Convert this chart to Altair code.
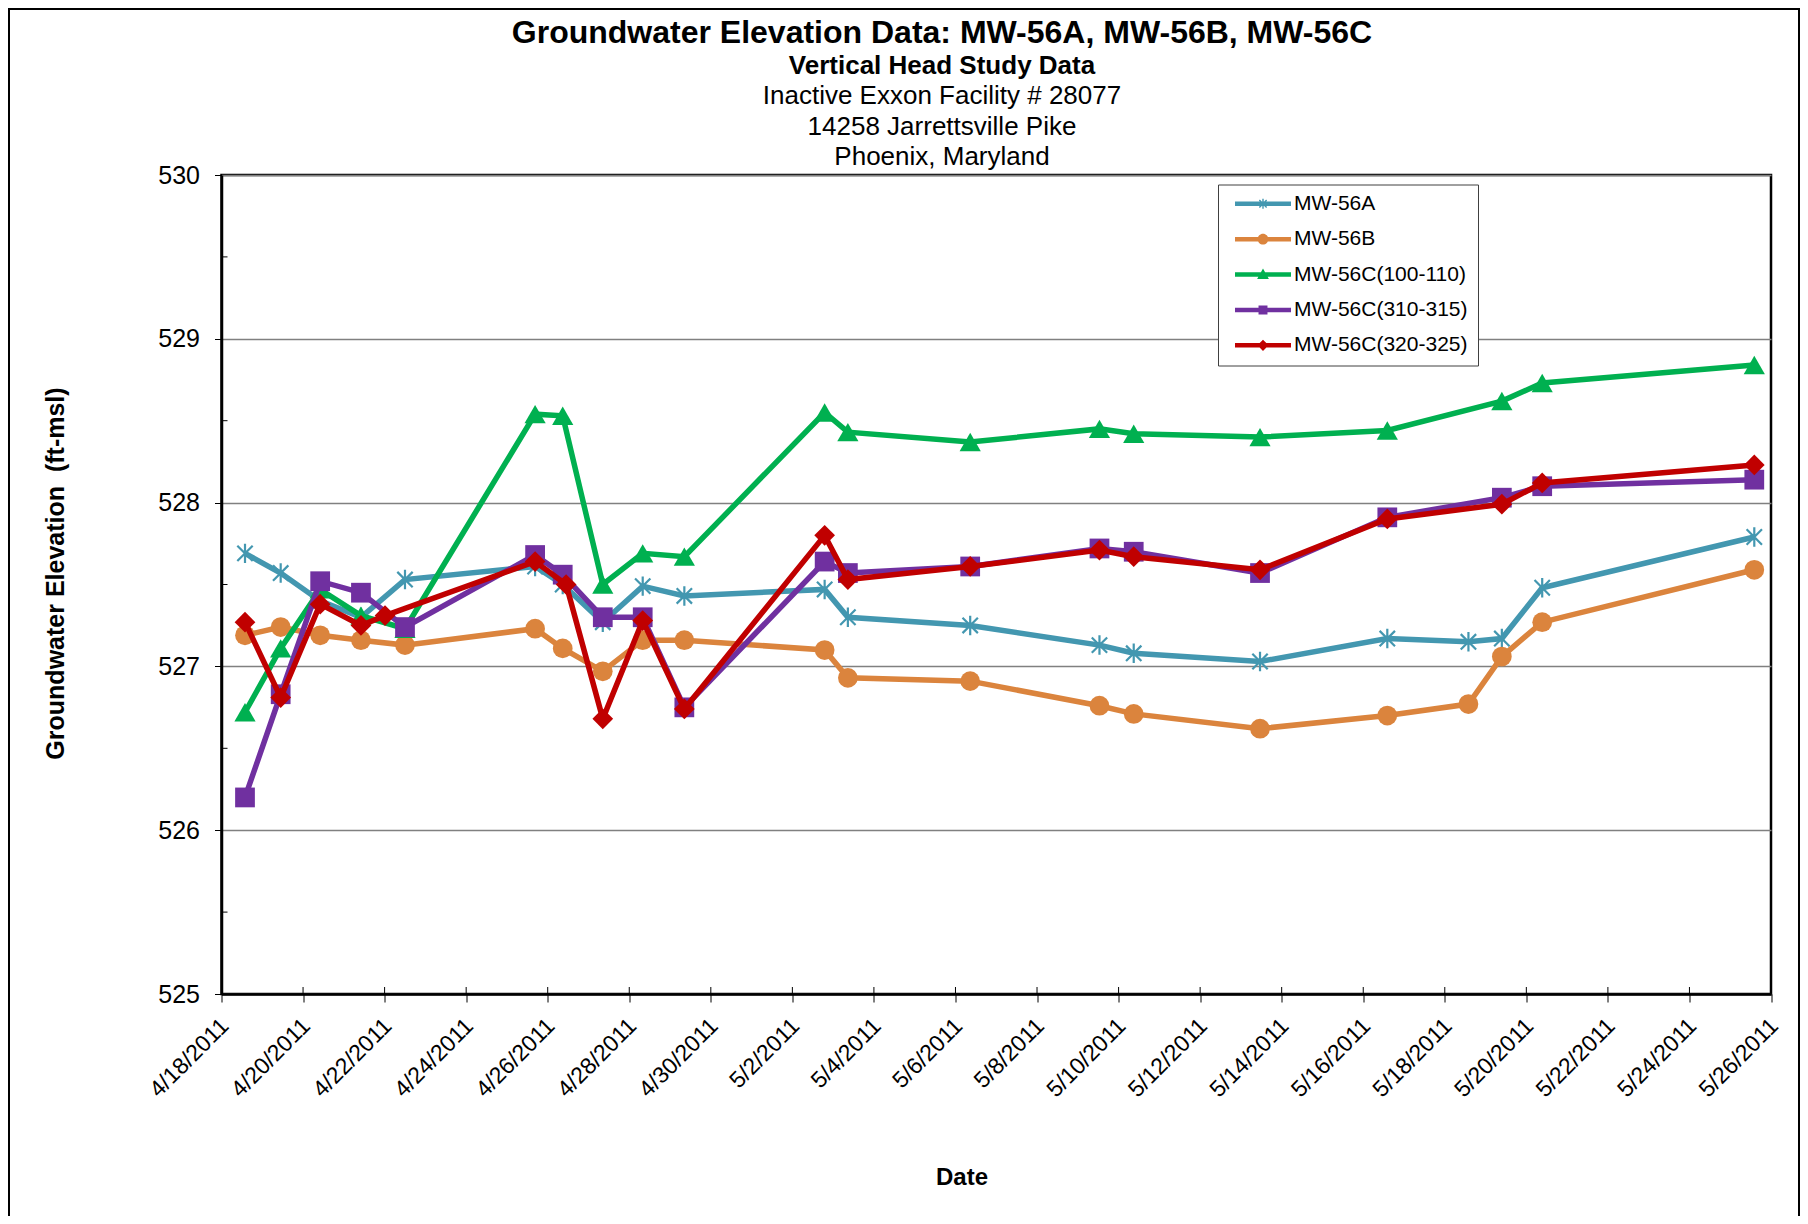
import altair as alt
import pandas as pd

FONT = "Liberation Sans"

# ---------------- data ----------------
series_names = ["MW-56A", "MW-56B", "MW-56C(100-110)", "MW-56C(310-315)", "MW-56C(320-325)"]
series_colors = ["#4397B0", "#DB843D", "#00B050", "#7030A0", "#C00000"]

dates_ab = ["2011-04-18T13:50:00", "2011-04-19T10:50:00", "2011-04-20T10:05:00", "2011-04-21T10:05:00",
            "2011-04-22T12:00:00", "2011-04-25T16:35:00", "2011-04-26T08:50:00", "2011-04-27T08:25:00",
            "2011-04-28T07:55:00", "2011-04-29T08:25:00", "2011-05-02T19:00:00", "2011-05-03T08:40:00",
            "2011-05-06T08:40:00", "2011-05-09T12:45:00", "2011-05-10T08:55:00", "2011-05-13T11:15:00",
            "2011-05-16T14:10:00", "2011-05-18T13:55:00", "2011-05-19T09:35:00", "2011-05-20T09:20:00",
            "2011-05-25T14:10:00"]
dates_c = ["2011-04-18T13:50:00", "2011-04-19T10:50:00", "2011-04-20T10:05:00", "2011-04-21T10:05:00",
           "2011-04-22T12:00:00", "2011-04-25T16:35:00", "2011-04-26T08:50:00", "2011-04-27T08:25:00",
           "2011-04-28T07:55:00", "2011-04-29T08:25:00", "2011-05-02T19:00:00", "2011-05-03T08:40:00",
           "2011-05-06T08:40:00", "2011-05-09T12:45:00", "2011-05-10T08:55:00", "2011-05-13T11:15:00",
           "2011-05-16T14:10:00", "2011-05-19T09:35:00", "2011-05-20T09:20:00", "2011-05-25T14:10:00"]
dates_red = ["2011-04-18T13:50:00", "2011-04-19T10:50:00", "2011-04-20T10:05:00", "2011-04-21T10:05:00",
             "2011-04-22T00:15:00", "2011-04-25T16:35:00", "2011-04-26T10:50:00", "2011-04-27T08:25:00",
             "2011-04-28T07:55:00", "2011-04-29T08:25:00", "2011-05-02T19:00:00", "2011-05-03T08:40:00",
             "2011-05-06T08:40:00", "2011-05-09T12:45:00", "2011-05-10T08:55:00", "2011-05-13T11:15:00",
             "2011-05-16T14:10:00", "2011-05-19T09:35:00", "2011-05-20T09:20:00", "2011-05-25T14:10:00"]

mw56a = [527.69, 527.57, 527.40, 527.30, 527.53, 527.61, 527.50, 527.27, 527.49, 527.43, 527.47,
         527.30, 527.25, 527.13, 527.08, 527.03, 527.17, 527.15, 527.17, 527.48, 527.79]
mw56b = [527.19, 527.24, 527.19, 527.16, 527.13, 527.23, 527.11, 526.97, 527.16, 527.16, 527.10,
         526.93, 526.91, 526.76, 526.71, 526.62, 526.70, 526.77, 527.06, 527.27, 527.59]
mw56c_100 = [526.72, 527.11, 527.47, 527.31, 527.23, 528.54, 528.53, 527.50, 527.69, 527.67,
             528.55, 528.43, 528.37, 528.45, 528.42, 528.40, 528.44, 528.62, 528.73, 528.84]
mw56c_310 = [526.20, 526.83, 527.52, 527.45, 527.24, 527.68, 527.56, 527.30, 527.30, 526.75,
             527.64, 527.57, 527.61, 527.72, 527.70, 527.57, 527.91, 528.03, 528.10, 528.14]
mw56c_320 = [527.27, 526.81, 527.38, 527.25, 527.31, 527.64, 527.50, 526.68, 527.28, 526.74,
             527.80, 527.53, 527.61, 527.71, 527.67, 527.59, 527.90, 527.99, 528.12, 528.23]

x_tick_labels = ["4/18/2011", "4/20/2011", "4/22/2011", "4/24/2011", "4/26/2011", "4/28/2011",
                 "4/30/2011", "5/2/2011", "5/4/2011", "5/6/2011", "5/8/2011", "5/10/2011",
                 "5/12/2011", "5/14/2011", "5/16/2011", "5/18/2011", "5/20/2011", "5/22/2011",
                 "5/24/2011", "5/26/2011"]
y_ticks = [525, 526, 527, 528, 529, 530]
y_minor = [525.5, 526.5, 527.5, 528.5, 529.5]

title_lines = ["Groundwater Elevation Data: MW-56A, MW-56B, MW-56C",
               "Vertical Head Study Data",
               "Inactive Exxon Facility # 28077",
               "14258 Jarrettsville Pike",
               "Phoenix, Maryland"]

# ---------------- tables ----------------
rows = []
for name, ds, vs in zip(series_names,
                        [dates_ab, dates_ab, dates_c, dates_c, dates_red],
                        [mw56a, mw56b, mw56c_100, mw56c_310, mw56c_320]):
    for d, v in zip(ds, vs):
        rows.append({"series": name, "date": d, "elev": v})
df = pd.DataFrame(rows)

tick_dt = pd.to_datetime(x_tick_labels, format="%m/%d/%Y")
tick_df = pd.DataFrame({"date": [t.strftime("%Y-%m-%dT00:00:00") for t in tick_dt]})
tick_values = [alt.DateTime(year=t.year, month=t.month, date=t.day) for t in tick_dt]
minor_df = pd.DataFrame({"elev": y_minor})

W, H = 1549.5, 819

x_scale = alt.Scale(domain=[tick_values[0], tick_values[-1]], nice=False)
y_scale = alt.Scale(domain=[525, 530], nice=False, zero=False)

X_TITLE = "Date"
Y_TITLE = "Groundwater Elevation \u00a0(ft-msl)"

x_axis = alt.Axis(values=tick_values, format="%-m/%-d/%Y", labelAngle=-45, labelAlign="right",
                  labelBaseline="middle", labelFontSize=23, labelPadding=20, labelOffset=3,
                  labelOverlap=False, labelFlush=False, labelBound=False,
                  tickSize=8, tickColor="black", tickWidth=1, grid=False,
                  domainColor="black", domainWidth=2.5,
                  title=X_TITLE, titleFontSize=24, titleFontWeight="bold",
                  titleX=740, titleY=183, titleAlign="center", titleBaseline="middle")
y_axis = alt.Axis(values=y_ticks, format="d", labelFontSize=25, labelPadding=15,
                  tickSize=7, tickColor="black", tickWidth=1,
                  grid=True, gridColor="#808080", gridWidth=1.5,
                  domainColor="black", domainWidth=2.5,
                  title=Y_TITLE, titleFontSize=25, titleFontWeight="bold",
                  titleX=-166.5, titleY=398, titleAlign="center", titleBaseline="middle", titleAngle=270)


def xenc():
    return alt.X("date:T", scale=x_scale, axis=x_axis, title=X_TITLE)


def yenc():
    return alt.Y("elev:Q", scale=y_scale, axis=y_axis, title=Y_TITLE)


layers = []

# outer frame of the figure
one = pd.DataFrame({"k": [0]})
layers.append(alt.Chart(one).mark_rect(filled=False, stroke="black", strokeWidth=2).encode(
    x=alt.value(-212.5), x2=alt.value(1577.5), y=alt.value(-166), y2=alt.value(1070)))

# minor y ticks (inside) and inner x tick halves
layers.append(alt.Chart(minor_df).mark_rule(color="black", strokeWidth=1).encode(
    y=yenc(), x=alt.value(0), x2=alt.value(6)))
layers.append(alt.Chart(tick_df).mark_rule(color="black", strokeWidth=1).encode(
    x=xenc(), y=alt.value(H), y2=alt.value(H - 7)))

asterisk = "M0,-0.95L0,0.95M-0.75,-0.75L0.75,0.75M-0.75,0.75L0.75,-0.75"
point_specs = [
    dict(shape=asterisk, filled=False, strokeWidth=2.2, size=420),
    dict(shape="circle", filled=True, strokeWidth=0, size=390),
    dict(shape="triangle-up", filled=True, strokeWidth=0, size=450),
    dict(shape="square", filled=True, strokeWidth=0, size=390),
    dict(shape="diamond", filled=True, strokeWidth=0, size=430),
]

for name, color, ps in zip(series_names, series_colors, point_specs):
    sub = alt.Chart(df).transform_filter(alt.datum.series == name)
    layers.append(sub.mark_line(color=color, strokeWidth=5.5).encode(x=xenc(), y=yenc()))
    layers.append(sub.mark_point(color=color, opacity=1, **ps).encode(x=xenc(), y=yenc()))

# legend (symbols: line + marker as custom paths)
bar = "M-1,-0.08L1,-0.08L1,0.08L-1,0.08Z"
leg_shapes = [
    bar + "M-0.025,-0.18L0.025,-0.18L0.025,0.18L-0.025,0.18Z"
        + "M-0.112,-0.148L0.148,0.112L0.112,0.148L-0.148,-0.112Z"
        + "M-0.148,0.112L0.112,-0.148L0.148,-0.112L-0.112,0.148Z",
    bar + "M-0.19,0A0.19,0.19 0 1,1 0.19,0A0.19,0.19 0 1,1 -0.19,0Z",
    bar + "M0,-0.22L0.21,0.16L-0.21,0.16Z",
    bar + "M-0.16,-0.16L0.16,-0.16L0.16,0.16L-0.16,0.16Z",
    bar + "M0,-0.2L0.2,0L0,0.2L-0.2,0Z",
]
legend = alt.Legend(title=None, orient="none", legendX=996.5, legendY=9.5, padding=10,
                    symbolSize=3136, clipHeight=18.5, rowPadding=13.4, symbolOffset=7,
                    labelOffset=3, labelFontSize=21, labelFont=FONT, labelColor="black",
                    labelExpr="datum.label + '\u2003'",
                    labelLimit=400, symbolStrokeWidth=0, symbolOpacity=1,
                    strokeColor="#404040", fillColor="white", direction="vertical")
layers.append(alt.Chart(df).transform_filter("false").mark_point(filled=True, opacity=1).encode(
    color=alt.Color("series:N", scale=alt.Scale(domain=series_names, range=series_colors), legend=legend),
    shape=alt.Shape("series:N", scale=alt.Scale(domain=series_names, range=leg_shapes), legend=legend)))

# title block
title_y = [-141.6, -109.3, -79.3, -48.2, -18.2]
title_size = [32, 26, 26, 26, 26]
title_weight = ["bold", "bold", "normal", "normal", "normal"]
for line, ty, ts, tw in zip(title_lines, title_y, title_size, title_weight):
    layers.append(alt.Chart(pd.DataFrame({"t": [line]})).mark_text(
        font=FONT, fontSize=ts, fontWeight=tw, align="center", baseline="middle", color="black").encode(
        text="t:N", x=alt.value(720.5), y=alt.value(ty)))

chart = alt.layer(*layers).properties(
    width=W, height=H,
    autosize=alt.AutoSizeParams(type="none"),
    padding={"left": 213.5, "top": 167, "right": 29, "bottom": 222},
).configure(font=FONT).configure_view(stroke="black", strokeWidth=2.5).configure_axis(
    labelFont=FONT, titleFont=FONT, labelColor="black", titleColor="black")

chart.save("out.html", embed_options={"renderer": "svg", "actions": False})
